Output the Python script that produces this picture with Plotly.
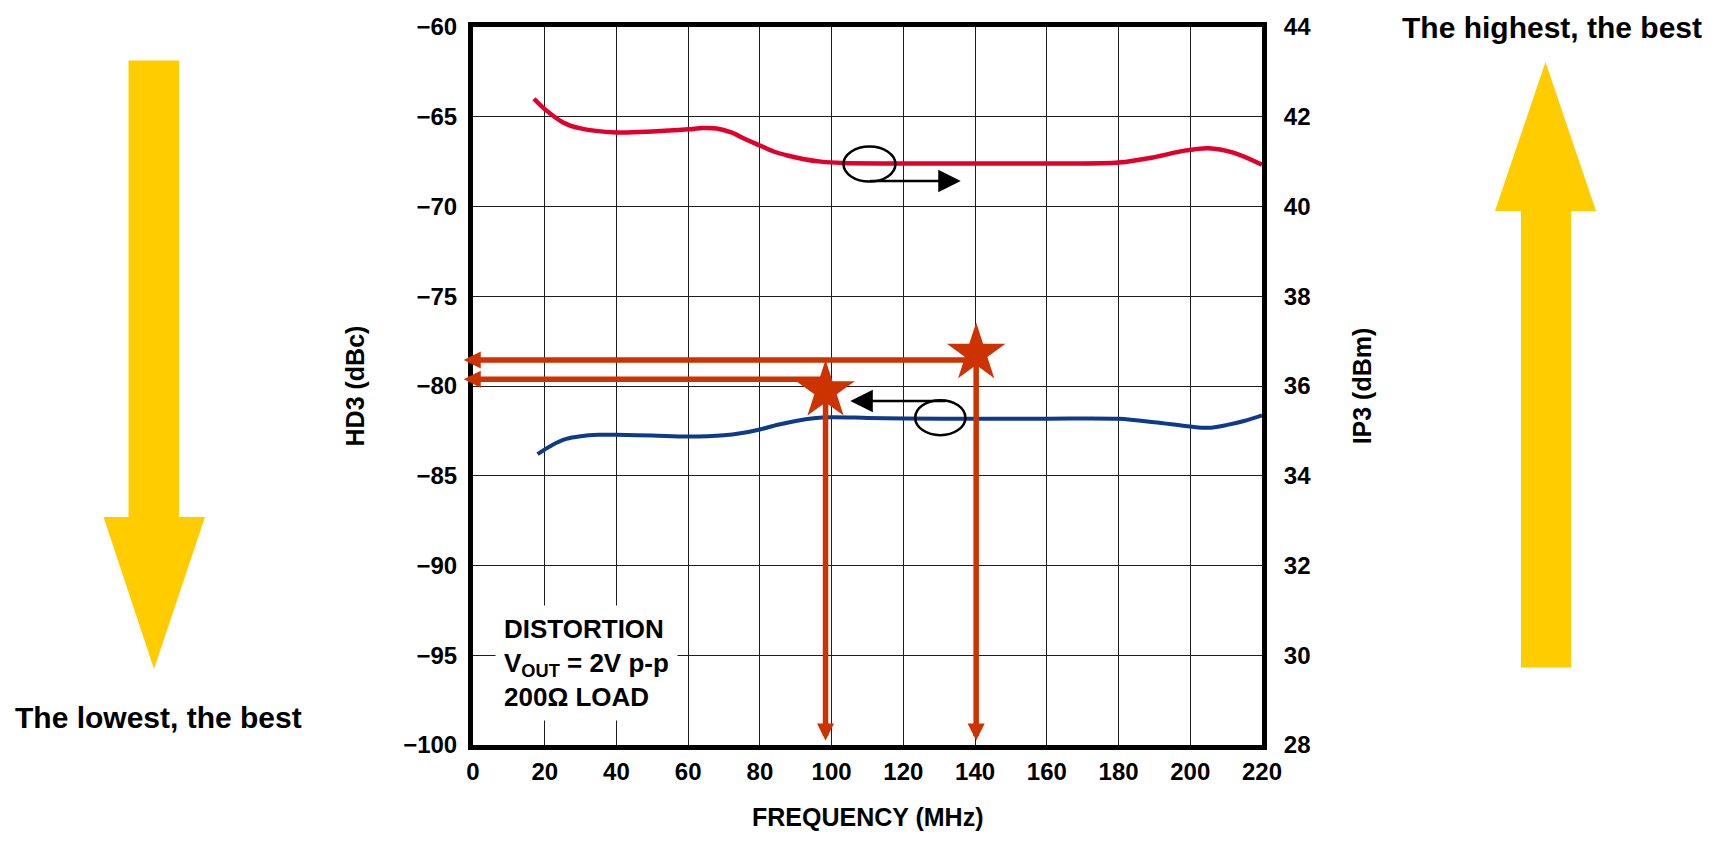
import plotly.graph_objects as go

# ---------------- data ----------------
freq_ip3 = [17, 20, 25, 30, 40, 50, 60, 64, 68, 72, 76, 80, 84, 88, 92, 97, 103, 120, 140, 160,
            180, 190, 198, 205, 212, 220]
ip3_dbm = [42.4, 42.17, 41.88, 41.74, 41.65, 41.67, 41.72, 41.75, 41.74, 41.65, 41.5, 41.36,
           41.22, 41.13, 41.06, 41.0, 40.97, 40.96, 40.96, 40.96, 40.98, 41.1, 41.24, 41.3, 41.2,
           40.93]

freq_hd3 = [18, 22, 26, 30, 35, 40, 50, 60, 70, 75, 80, 85, 90, 95, 100, 110, 120, 140, 160,
            180, 190, 200, 205, 210, 215, 220]
hd3_dbc = [-83.8, -83.3, -82.95, -82.8, -82.72, -82.72, -82.76, -82.82, -82.75, -82.62, -82.42,
           -82.16, -81.95, -81.8, -81.74, -81.78, -81.81, -81.82, -81.82, -81.83, -82.02, -82.26,
           -82.33, -82.18, -81.95, -81.64]

star_freq = [98.3, 140.3]
star_hd3 = [-80.26, -78.18]
guide_level = [-79.62, -78.55]
guide_left_tip = -2.6
guide_bottom_tip = -99.75

x_ticks = list(range(0, 221, 20))
y_left_ticks = list(range(-100, -59, 5))
y_right_ticks = list(range(28, 45, 2))

# curve indicators (ellipse + arrow), in left-axis data units
ip3_ellipse_x = [103.3, 117.8]
ip3_ellipse_y = [-66.66, -68.61]
ip3_arrow_x = [110.3, 136.0]
ip3_arrow_y = -68.58
hd3_ellipse_x = [123.3, 137.3]
hd3_ellipse_y = [-80.79, -82.74]
hd3_arrow_x = [132.2, 105.2]
hd3_arrow_y = -80.83

RED_CURVE = "#E0002C"
BLUE_CURVE = "#0E3A8A"
GUIDE = "#CC3300"
YELLOW = "#FFCC00"
FONT = "Liberation Sans"

# page body has an 8px margin; figure is sized to fit the 1716x841 window
OFF = 8
FIG_W, FIG_H = 1716 - 2 * OFF, 841 - 2 * OFF
# plot area in figure pixels
X0, W, Y1, H = 473 - OFF, 789, 745 - OFF, 718


def P(x, y):
    """page pixel -> paper coordinates"""
    return ((x - OFF - X0) / W, (Y1 - (y - OFF)) / H)


def path(points):
    s = ""
    for i, (x, y) in enumerate(points):
        px, py = P(x, y)
        s += ("M" if i == 0 else "L") + f"{px:.5f},{py:.5f} "
    return s + "Z"


fig = go.Figure()

fig.add_trace(go.Scatter(x=freq_ip3, y=ip3_dbm, yaxis="y2", mode="lines",
                         line=dict(color=RED_CURVE, width=4.5, shape="spline", smoothing=0.9),
                         name="IP3", showlegend=False))
fig.add_trace(go.Scatter(x=freq_hd3, y=hd3_dbc, mode="lines",
                         line=dict(color=BLUE_CURVE, width=4, shape="spline", smoothing=0.9),
                         name="HD3", showlegend=False))

annotations = []
# guide arrows (horizontal to left axis, vertical to bottom axis)
for fx, fy, lvl in zip(star_freq, star_hd3, guide_level):
    annotations.append(dict(x=guide_left_tip, y=lvl, ax=fx, ay=lvl, xref="x", yref="y",
                            axref="x", ayref="y", text="", showarrow=True, arrowhead=2,
                            arrowsize=0.62, arrowwidth=5.5, arrowcolor=GUIDE))
    annotations.append(dict(x=fx, y=guide_bottom_tip, ax=fx, ay=fy, xref="x", yref="y",
                            axref="x", ayref="y", text="", showarrow=True, arrowhead=2,
                            arrowsize=0.62, arrowwidth=5.5, arrowcolor=GUIDE))

fig.add_trace(go.Scatter(x=star_freq, y=star_hd3, mode="markers",
                         marker=dict(symbol="star", size=44, color=GUIDE, line=dict(width=0)),
                         showlegend=False))

# black indicator arrows
annotations.append(dict(x=ip3_arrow_x[1], y=ip3_arrow_y, ax=ip3_arrow_x[0], ay=ip3_arrow_y,
                        xref="x", yref="y", axref="x", ayref="y", text="", showarrow=True,
                        arrowhead=2, arrowsize=1.8, arrowwidth=2.5, arrowcolor="black"))
annotations.append(dict(x=hd3_arrow_x[1], y=hd3_arrow_y, ax=hd3_arrow_x[0], ay=hd3_arrow_y,
                        xref="x", yref="y", axref="x", ayref="y", text="", showarrow=True,
                        arrowhead=2, arrowsize=1.8, arrowwidth=2.5, arrowcolor="black"))

# condition text box
annotations.append(dict(x=6.0, y=-92.2, xref="x", yref="y", xanchor="left", yanchor="top",
                        text="DISTORTION<br>V<sub>OUT</sub> = 2V p-p<br>200Ω LOAD",
                        align="left", showarrow=False, bgcolor="white", borderpad=8,
                        font=dict(family=FONT, size=26, color="black", weight="bold")))

tickfont = dict(family=FONT, size=24, color="black", weight="bold")
titlefont = dict(family=FONT, size=25, color="black", weight="bold")

# x axis title (placed as an annotation for exact vertical placement)
tx, ty = P(867, 817)
annotations.append(dict(x=0.5, y=ty, xref="paper", yref="paper", text="FREQUENCY (MHz)",
                        showarrow=False, xanchor="center", yanchor="middle", font=titlefont))

# side texts
lx, ly = P(158, 717)
annotations.append(dict(x=lx, y=ly, xref="paper", yref="paper", text="The lowest, the best",
                        showarrow=False, xanchor="center", yanchor="middle",
                        font=dict(family=FONT, size=30, color="black", weight="bold")))
rx, ry = P(1552, 27)
annotations.append(dict(x=rx, y=ry, xref="paper", yref="paper", text="The highest, the best",
                        showarrow=False, xanchor="center", yanchor="middle",
                        font=dict(family=FONT, size=30, color="black", weight="bold")))

shapes = [
    dict(type="circle", xref="x", yref="y", x0=ip3_ellipse_x[0], x1=ip3_ellipse_x[1],
         y0=ip3_ellipse_y[0], y1=ip3_ellipse_y[1], line=dict(color="black", width=2.5)),
    dict(type="circle", xref="x", yref="y", x0=hd3_ellipse_x[0], x1=hd3_ellipse_x[1],
         y0=hd3_ellipse_y[0], y1=hd3_ellipse_y[1], line=dict(color="black", width=2.5)),
    dict(type="path", xref="paper", yref="paper", fillcolor=YELLOW, line=dict(width=0),
         path=path([(128.5, 60.5), (179, 60.5), (179, 517), (205, 517), (154, 669),
                    (103.5, 517), (128.5, 517)])),
    dict(type="path", xref="paper", yref="paper", fillcolor=YELLOW, line=dict(width=0),
         path=path([(1545.5, 62), (1596, 211), (1571, 211), (1571, 667.5), (1521, 667.5),
                    (1521, 211), (1495, 211)])),
]

fig.update_layout(
    width=FIG_W, height=FIG_H,
    margin=dict(l=X0, r=FIG_W - X0 - W, t=Y1 - H, b=FIG_H - Y1, autoexpand=False),
    paper_bgcolor="white", plot_bgcolor="white",
    showlegend=False,
    xaxis=dict(range=[0, 220], tickvals=x_ticks, showgrid=True, gridcolor="#1e1e1e",
               gridwidth=1.4, showline=True, linecolor="black", linewidth=5, mirror=True,
               zeroline=False, ticks="", tickfont=tickfont, ticklabelstandoff=1,
               automargin=False),
    yaxis=dict(range=[-100, -60], tickvals=y_left_ticks, showgrid=True, gridcolor="#1e1e1e",
               gridwidth=1.4, showline=True, linecolor="black", linewidth=5, mirror=True,
               zeroline=False, ticks="", tickfont=tickfont, ticklabelstandoff=6,
               automargin=False,
               title=dict(text="HD3 (dBc)", font=titlefont, standoff=33)),
    yaxis2=dict(range=[28, 44], tickvals=y_right_ticks, overlaying="y", side="right",
                showgrid=False, showline=True, linecolor="black", linewidth=5,
                zeroline=False, ticks="", tickfont=tickfont, ticklabelstandoff=12,
                automargin=False,
                title=dict(text="IP3 (dBm)", font=titlefont, standoff=45)),
    annotations=annotations,
    shapes=shapes,
)

fig.write_html("out.html")
